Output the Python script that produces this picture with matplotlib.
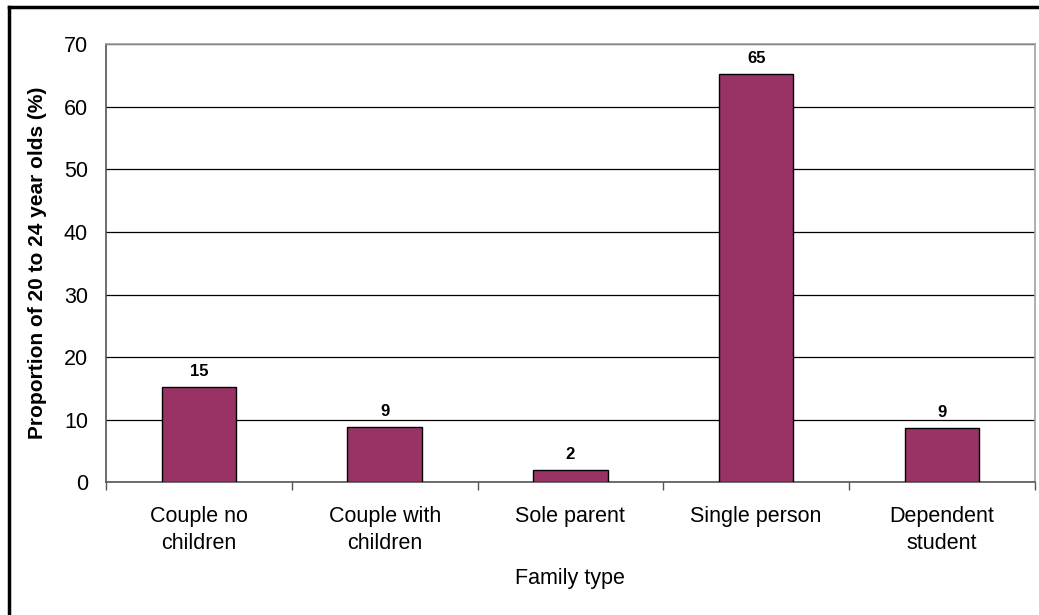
import matplotlib
matplotlib.use("Agg")
import matplotlib.pyplot as plt
from matplotlib.lines import Line2D
import numpy as np

plt.rcParams['font.family'] = ['Liberation Sans', 'DejaVu Sans']

categories = ["Couple no\nchildren", "Couple with\nchildren", "Sole parent",
              "Single person", "Dependent\nstudent"]
proportions = [15.2, 8.8, 1.9, 65.2, 8.6]
y_ticks = [0, 10, 20, 30, 40, 50, 60, 70]

bar_color = "#993366"

fig = plt.figure(figsize=(10.39, 6.15), dpi=100)
ax = fig.add_axes([0.102, 0.2158, 0.894, 0.7122])

x = np.arange(len(categories))
bars = ax.bar(x, proportions, width=0.4, color=bar_color,
              edgecolor="black", linewidth=1.0, zorder=3)

for rect, v in zip(bars, proportions):
    ax.annotate(f"{v:.0f}", (rect.get_x() + rect.get_width() / 2, v),
                xytext=(0, 6), textcoords="offset points",
                ha="center", va="bottom", fontsize=12, fontweight="bold")

ax.set_xlim(-0.5, len(categories) - 0.5)
ax.set_ylim(0, 70)
ax.set_yticks(y_ticks)
ax.yaxis.grid(True, color="black", linewidth=0.9, zorder=0)
ax.tick_params(axis="y", length=0, labelsize=15.5, pad=13)

ax.set_xticks(x)
ax.set_xticklabels(categories, fontsize=15.5, linespacing=1.4)
ax.tick_params(axis="x", length=0, pad=17)
ax.set_xticks(np.arange(len(categories) + 1) - 0.5, minor=True)
ax.tick_params(axis="x", which="minor", length=6, width=1.0, color="#555555")

for side in ("top", "right"):
    ax.spines[side].set_color("#a0a0a0")
    ax.spines[side].set_linewidth(1.2)
for side in ("left", "bottom"):
    ax.spines[side].set_color("#555555")
    ax.spines[side].set_linewidth(1.2)

ax.set_xlabel("Family type", fontsize=15.5, labelpad=10)
ax.set_ylabel("Proportion of 20 to 24 year olds (%)", fontsize=15,
              fontweight="bold", labelpad=12)

# outer frame lines along the top and left edges of the figure
fig.add_artist(Line2D([0.0083, 0.0083], [0.0, 0.988], transform=fig.transFigure,
                      color="black", linewidth=2.5))
fig.add_artist(Line2D([0.0083, 1.0], [0.988, 0.988], transform=fig.transFigure,
                      color="black", linewidth=2.5))

fig.savefig("out.png", dpi=100)
